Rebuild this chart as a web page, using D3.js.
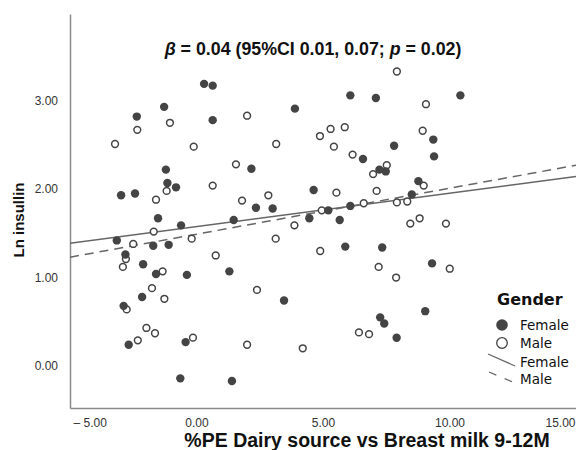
<!DOCTYPE html>
<html>
<head>
<meta charset="utf-8">
<script src="https://cdn.jsdelivr.net/npm/d3@7"></script>
<style>
  html, body { margin: 0; padding: 0; background: #fff; }
  svg { display: block; }
</style>
</head>
<body>
<svg id="chart" width="576" height="450"></svg>
<script>
// %PE dairy source vs breast milk (x) and Ln insulin (y), by gender
const femaleX = [0.30, 0.64, -1.28, -2.36, 0.64, 3.89, 2.17, -1.21, -1.15, -0.81, -2.98, -2.43, 4.63, 2.35, 3.01,
  6.08, 7.09, 10.43, 9.36, 7.81, 6.58, 9.39, 7.23, 7.48, 8.77, 8.51, 6.08, 5.21, -1.52, -0.61, 1.47, 4.46,
  -3.15, -1.71, -1.10, -2.81, -2.11, -1.60, -0.38, 1.30, -2.15, 3.46, -2.88, -2.68, -0.43, -0.64, 1.40,
  5.66, 5.88, 7.34, 9.31, 9.04, 7.26, 7.42, 7.91];
const femaleY = [3.19, 3.17, 2.93, 2.82, 2.78, 2.91, 2.23, 2.22, 2.07, 2.02, 1.93, 1.95, 1.99, 1.79, 1.78,
  3.06, 3.03, 3.06, 2.56, 2.49, 2.34, 2.37, 2.22, 2.20, 2.09, 1.94, 1.81, 1.76, 1.67, 1.59, 1.65, 1.67,
  1.42, 1.36, 1.37, 1.26, 1.15, 1.04, 1.03, 1.07, 0.78, 0.74, 0.68, 0.24, 0.27, -0.14, -0.17,
  1.65, 1.35, 1.34, 1.16, 0.62, 0.55, 0.48, 0.32];

const maleX = [-2.34, -1.05, 2.00, -3.22, -0.11, 3.15, 4.88, 1.56, -1.18, 0.64, -1.60, 1.80, 2.84,
  7.92, 9.07, 5.30, 5.86, 5.43, 8.94, 6.17, 7.52, 6.98, 5.53, 7.12, 8.98, 6.61, 7.92, 8.33, 4.95,
  -1.69, 3.87, -2.50, -0.19, 3.13, -2.79, -2.91, 0.76, 4.89, -1.34, -1.76, -1.27, 2.39, -2.76,
  -1.98, -1.64, -2.32, -0.14, 2.00, 4.20, 8.45, 8.82, 9.86, 7.20, 7.89, 10.01, 6.42, 6.82];
const maleY = [2.67, 2.75, 2.83, 2.51, 2.48, 2.51, 2.60, 2.28, 1.98, 2.04, 1.88, 1.87, 1.93,
  3.33, 2.96, 2.68, 2.70, 2.48, 2.66, 2.39, 2.27, 2.17, 1.96, 1.98, 2.04, 1.84, 1.85, 1.86, 1.76,
  1.52, 1.59, 1.38, 1.44, 1.44, 1.21, 1.12, 1.25, 1.30, 1.07, 0.88, 0.76, 0.86, 0.64,
  0.43, 0.37, 0.29, 0.32, 0.24, 0.20, 1.61, 1.67, 1.61, 1.12, 1.00, 1.10, 0.38, 0.36];

// Linear fit lines per gender: [intercept, slope]
const femaleFit = [1.576, 0.0377];
const maleFit = [1.49, 0.052];

const xTicks = [-5, 0, 5, 10, 15];
const yTicks = [0, 1, 2, 3];
const xDomain = [-5, 15];
const yDomain = [-0.475, 3.98];

const titleParts = [
  { t: "β", i: true }, { t: " = 0.04 (95%CI 0.01, 0.07; ", i: false },
  { t: "p", i: true }, { t: " = 0.02)", i: false }
];
const xTitle = "%PE Dairy source vs Breast milk 9-12M";
const yTitle = "Ln insullin";
const legendTitle = "Gender";
const legendLabels = ["Female", "Male", "Female", "Male"];

const svg = d3.select("#chart");
const plotLeft = 70, plotRight = 576, plotTop = 14, plotBottom = 408;

const x = d3.scaleLinear().domain(xDomain).range([plotLeft, plotRight]);
const y = d3.scaleLinear().domain(yDomain).range([plotBottom, plotTop]);

const axisColor = "#8a8a8a";
const markColor = "#444";

// Clip for plot contents
svg.append("clipPath").attr("id", "plotClip")
  .append("rect").attr("x", plotLeft).attr("y", plotTop)
  .attr("width", plotRight - plotLeft).attr("height", plotBottom - plotTop);

// Axes (no tick marks, only labels)
const fmt = d => d < 0 ? "\u2013 " + Math.abs(d).toFixed(2) : d.toFixed(2);

const xAxis = svg.append("g").attr("transform", `translate(0,${plotBottom})`)
  .call(d3.axisBottom(x).tickValues(xTicks).tickFormat(fmt).tickSize(0).tickPadding(10));
xAxis.select(".domain").attr("stroke", axisColor).attr("stroke-width", 1.5);
xAxis.selectAll("text")
  .attr("font-family", "Liberation Sans, Arial, sans-serif").attr("font-size", 12).attr("fill", "#333");
xAxis.selectAll(".tick").filter(d => d === xTicks[0]).select("text").attr("text-anchor", "start").attr("dx", 3);
xAxis.selectAll(".tick").filter(d => d === xTicks[xTicks.length - 1]).select("text").attr("text-anchor", "end").attr("dx", -1);

const yAxis = svg.append("g").attr("transform", `translate(${plotLeft},0)`)
  .call(d3.axisLeft(y).tickValues(yTicks).tickFormat(fmt).tickSize(0).tickPadding(12));
yAxis.select(".domain").attr("stroke", axisColor).attr("stroke-width", 1.5);
yAxis.selectAll("text")
  .attr("font-family", "Liberation Sans, Arial, sans-serif").attr("font-size", 12).attr("fill", "#333");

// Fit lines
const plot = svg.append("g").attr("clip-path", "url(#plotClip)");
const fitLine = (fit) => d3.line()
  .x(d => x(d)).y(d => y(fit[0] + fit[1] * d))(xDomain);

plot.append("path").attr("d", fitLine(femaleFit))
  .attr("fill", "none").attr("stroke", "#666").attr("stroke-width", 1.5);
plot.append("path").attr("d", fitLine(maleFit))
  .attr("fill", "none").attr("stroke", "#666").attr("stroke-width", 1.5).attr("stroke-dasharray", "9,6");

// Points
plot.append("g").selectAll("circle").data(d3.range(maleX.length)).join("circle")
  .attr("cx", i => x(maleX[i])).attr("cy", i => y(maleY[i])).attr("r", 3.4)
  .attr("fill", "#fff").attr("stroke", markColor).attr("stroke-width", 1.5);
plot.append("g").selectAll("circle").data(d3.range(femaleX.length)).join("circle")
  .attr("cx", i => x(femaleX[i])).attr("cy", i => y(femaleY[i])).attr("r", 4.2)
  .attr("fill", markColor);

// Title with italic symbols
const title = svg.append("text").attr("x", 313).attr("y", 55).attr("text-anchor", "middle")
  .attr("font-family", "Liberation Sans, Arial, sans-serif").attr("font-size", 17.8)
  .attr("font-weight", "bold").attr("fill", "#111");
titleParts.forEach(p => title.append("tspan").text(p.t).attr("font-style", p.i ? "italic" : "normal"));

// Axis titles
svg.append("text").attr("x", 367).attr("y", 447).attr("text-anchor", "middle")
  .attr("font-family", "Liberation Sans, Arial, sans-serif").attr("font-size", 19.5)
  .attr("font-weight", "bold").attr("fill", "#111").text(xTitle);
svg.append("text").attr("transform", "translate(24,220) rotate(-90)").attr("text-anchor", "middle")
  .attr("font-family", "Liberation Sans, Arial, sans-serif").attr("font-size", 15)
  .attr("font-weight", "bold").attr("fill", "#111").text(yTitle);

// Legend
const lg = svg.append("g").attr("font-family", "DejaVu Sans, sans-serif").attr("fill", "#111");
lg.append("text").attr("x", 497).attr("y", 305).attr("font-size", 16).attr("font-weight", "bold").text(legendTitle);
lg.append("circle").attr("cx", 502).attr("cy", 325).attr("r", 5.8).attr("fill", markColor);
lg.append("circle").attr("cx", 502).attr("cy", 343).attr("r", 5.3).attr("fill", "#fff")
  .attr("stroke", markColor).attr("stroke-width", 1.3);
lg.append("line").attr("x1", 488).attr("y1", 354).attr("x2", 515).attr("y2", 366)
  .attr("stroke", "#666").attr("stroke-width", 1.3);
lg.append("line").attr("x1", 489).attr("y1", 372).attr("x2", 515).attr("y2", 383)
  .attr("stroke", "#666").attr("stroke-width", 1.3).attr("stroke-dasharray", "8,9");
const ly = [330, 348, 367, 384];
legendLabels.forEach((t, i) => lg.append("text").attr("x", 520).attr("y", ly[i])
  .attr("font-size", 13.5).text(t));
</script>
</body>
</html>
